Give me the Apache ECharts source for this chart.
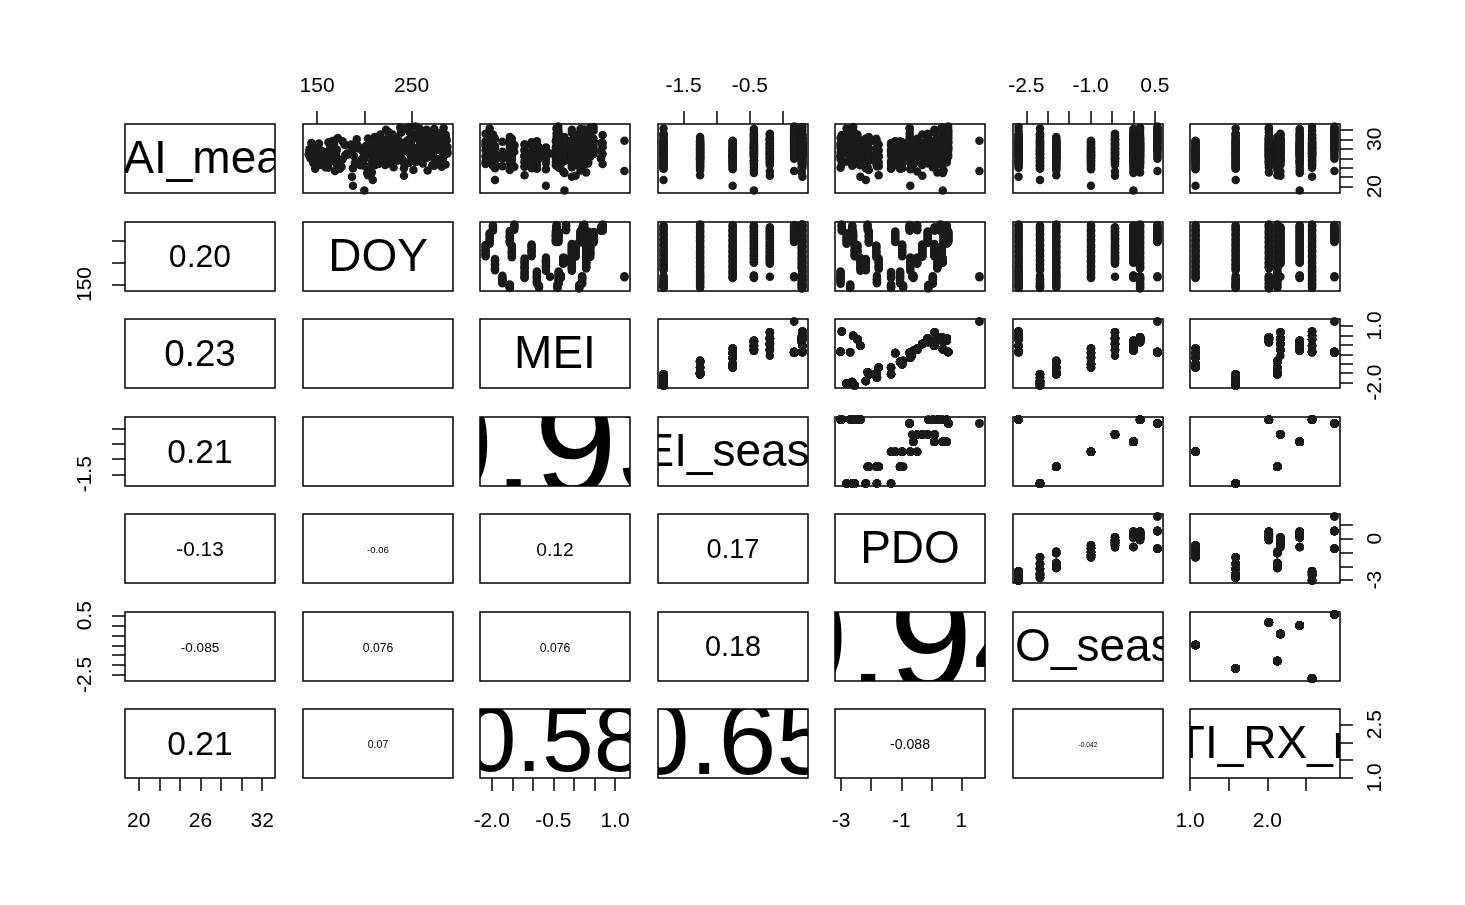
<!DOCTYPE html>
<html><head><meta charset="utf-8">
<script src="https://cdn.jsdelivr.net/npm/echarts@6/dist/echarts.min.js"></script>
<style>
html,body{margin:0;padding:0;background:#fff;}
#main{position:absolute;left:0;top:0;width:1465px;height:905px;}
.ov{position:absolute;overflow:hidden;}
</style></head><body>
<div id="main"></div>
<script>
// ================= DATA =================
const varNames = ['SAI_mean','DOY','MEI','MEI_season','PDO','PDO_season','BEUTI_RX_mean'];

// per sampling year (8 years)
const yearMEIseason = [-1.80,-1.25,-0.76,-0.44,-0.20,0.165,0.28,0.29];
const yearPDOseason = [-2.18,-1.80,-0.99,0.00,-0.43,0.56,0.155,-2.68];
const yearRX        = [1.59,2.13,1.07,2.42,2.17,2.87,2.02,2.58];

// monthly index values, months May..Oct (first DOY of each month)
const monthStartDOY = [121,152,182,213,244,274];
const monthMEI = [
  [-1.56,-1.74,-1.92,-2.15,-2.05,-1.97],
  [-0.85,-0.90,-1.20,-1.51,-1.56,-1.45],
  [null,-1.20,-0.68,-1.03,-0.44,-0.19],
  [-0.67,-0.32,-0.23,-0.05,0.16,0.22],
  [-0.90,-0.58,-0.26,0.04,0.34,0.66],
  [null,1.23,null,null,-0.38,-0.42],
  [0.13,0.20,0.30,0.40,0.35,0.25],
  [-0.40,-0.37,-0.05,0.30,0.48,0.70]
];
const monthPDO = [
  [-1.34,-1.81,-2.18,-2.55,-2.82,-2.63],
  [-0.94,-1.04,-1.75,-1.83,-2.08,-2.12],
  [null,-1.34,-0.70,-0.97,-1.20,-0.47],
  [-0.72,-0.60,0.38,0.10,0.41,0.51],
  [-0.84,-0.64,-0.47,-0.30,-0.12,0.11],
  [null,1.60,null,null,0.56,-0.72],
  [-0.10,0.05,0.20,0.35,0.51,0.30],
  [-2.70,-3.02,-2.36,-2.46,-2.60,-2.98]
];

// observations (day of year and SAI_mean) per year
const obsDOY = [
  [142,146,150,155,160,165,170,183,188,193,198,204,209,215,220,226,232,238,244,250,256,262,268,274,280,286, 144,153,162,186,196,206,218,229,241,253,265,277,283,148],
  [143,148,153,158,163,168,174,180,186,192,198,204,210,216,222,228,234,240,246,252,258,264,270,276,282,288, 145,156,166,177,189,201,213,225,237,249,261,273,285,171],
  [165,170,176,182,188,194,200,206,212,218,224,230,236,242,248,254,260,266,272,278,284, 167,179,191,203,215,227,239,251,263,275,287],
  [165,168,171,200,203,207,211,215,219,223,227,231,235,239,243,247,251,255,259,263,267,271,275,279,283,286, 166,170,201,209,217,225,233,241,249,257,265,273,281,285],
  [168,198,202,206,210,214,218,222,226,230,234,238,242,246,250,254,258,262,266,270,274,278,282, 200,208,216,224,232,240,248,256,264,272,280,212],
  [167,169,248,251,254,257,260,263,266,269,272,275,278,281,284,287, 249,252,256,259,262,265,268,271,274,277,280,283,286],
  [141,145,149,154,159,164,169,187,192,197,202,208,214,220,226,232,238,244,250,256,262,268,274,280,286, 143,152,162,190,200,211,223,235,247,259,271,283,288,167],
  [142,147,152,157,162,167,172,177,182,187,193,199,205,211,217,223,229,235,241,247,253,259,265,271,277,283,288, 144,150,160,170,180,190,202,214,226,238,250,262,274,286]
];
const obsAI = [
  [27.5,25.0,28.8,26.2,24.3,29.5,27.0,26.8,23.9,28.1,25.6,30.2,21.4,24.8,29.0,31.2,26.4,28.6,32.3,27.8,25.3,30.6,29.1,24.4,28.2,31.0, 29.2,27.4,25.9,28.6,24.5,26.9,27.7,29.6,25.2,31.0,27.0,29.8,26.0,23.8],
  [26.0,28.4,24.6,27.2,25.5,29.0,23.8,26.7,28.9,25.1,27.6,22.4,26.3,29.4,24.9,27.9,30.1,25.8,28.2,23.5,27.0,29.7,26.4,28.8,24.2,27.4, 27.3,25.8,28.1,29.6,26.5,24.3,28.0,26.2,27.0,29.2,25.4,30.5,28.6,27.8],
  [25.4,27.8,24.2,26.9,20.2,28.3,25.9,23.7,27.1,29.4,24.8,26.5,28.7,23.9,27.5,25.2,29.6,26.1,24.5,28.0,26.8, 26.6,28.9,25.0,27.6,26.0,29.1,27.2,26.4,28.3,25.6,29.7],
  [26.2,28.5,24.7,19.2,22.9,27.3,30.5,25.6,28.8,32.0,26.9,24.1,29.7,31.4,27.5,25.0,30.2,28.1,32.2,26.6,23.4,29.0,31.1,27.8,25.3,30.6, 27.4,25.5,26.4,28.3,27.0,29.0,27.9,29.3,26.7,30.9,28.3,27.1,29.6,28.7],
  [27.0,25.8,28.6,23.2,30.1,26.7,29.3,24.6,27.9,31.0,25.4,28.4,22.3,29.8,26.2,30.6,27.4,24.9,28.9,31.2,26.0,29.2,27.6, 27.1,25.3,28.0,26.9,29.0,27.3,30.0,26.6,28.1,29.9,25.9,28.8],
  [29.7,23.3,31.5,28.4,32.7,26.3,30.2,29.1,32.0,27.6,31.0,25.9,30.6,28.8,32.4,29.9, 29.4,30.9,27.9,31.8,28.3,29.6,30.4,26.8,32.2,28.2,31.3,27.3,30.0],
  [26.8,29.0,25.2,27.7,24.1,28.3,26.0,27.4,30.0,25.7,28.6,23.0,29.2,26.3,31.5,27.9,32.5,25.1,29.7,28.0,30.8,26.6,32.1,28.5,24.7, 27.9,26.4,29.4,28.8,26.9,27.5,29.9,30.4,27.3,29.1,28.8,30.2,27.0,25.4],
  [27.9,25.3,29.1,26.5,24.0,28.2,30.3,25.8,27.0,22.1,28.7,26.2,29.8,24.5,31.0,27.3,25.6,30.4,28.1,32.6,26.9,29.5,31.8,27.6,24.8,30.9,28.4, 26.7,28.0,27.2,26.4,28.8,25.0,27.5,28.9,29.2,27.0,30.1,28.4,29.3,26.9]
];

// correlations shown in the lower panels (row i, columns 0..i-1)
const corText = [
  [],
  ['0.20'],
  ['0.23','0.0041'],
  ['0.21','0.0027','0.93'],
  ['-0.13','-0.06','0.12','0.17'],
  ['-0.085','0.076','0.076','0.18','0.94'],
  ['0.21','0.07','0.58','0.65','-0.088','-0.042']
];
const corValue = [
  [],
  [0.20],
  [0.23,0.0041],
  [0.21,0.0027,0.93],
  [-0.13,-0.060,0.12,0.17],
  [-0.085,0.076,0.076,0.18,0.94],
  [0.21,0.066,0.58,0.65,-0.088,-0.042]
];

// axis ticks and labels per variable
const tickValues = [
  [20,22,24,26,28,30,32],
  [150,200,250],
  [-2,-1.5,-1,-0.5,0,0.5,1],
  [-1.5,-1,-0.5,0],
  [-3,-2,-1,0,1],
  [-2.5,-2,-1.5,-1,-0.5,0,0.5],
  [1,1.5,2,2.5]
];
const labelsTop    = {1:[150,250], 3:[-1.5,-0.5], 5:[-2.5,-1.0,0.5]};
const labelsBottom = {0:[20,26,32], 2:[-2,-0.5,1], 4:[-3,-1,1], 6:[1,2]};
const labelsLeft   = {1:[150], 3:[-1.5], 5:[-2.5,0.5]};
const labelsRight  = {0:[20,30], 2:[-2,1], 4:[-3,0], 6:[1,2.5]};
const labelDigits  = [0,0,1,1,0,1,1];

// ================= BUILD =================
const FONT = '"Liberation Sans", Arial, Helvetica, sans-serif';
const P = 7, PW = 150, PH = 69;
const colLeft = j => 125 + Math.round(j * 177.5);
const rowTop  = i => 124 + Math.round(i * 97.5);

// assemble observation table
const cols = [[],[],[],[],[],[],[]];
for (let y = 0; y < obsDOY.length; y++) {
  for (let k = 0; k < obsDOY[y].length; k++) {
    const d = obsDOY[y][k];
    let m = 0;
    for (let q = 0; q < monthStartDOY.length; q++) if (d >= monthStartDOY[q]) m = q;
    cols[0].push(obsAI[y][k]);
    cols[1].push(d);
    cols[2].push(monthMEI[y][m]);
    cols[3].push(yearMEIseason[y]);
    cols[4].push(monthPDO[y][m]);
    cols[5].push(yearPDOseason[y]);
    cols[6].push(yearRX[y]);
  }
}
const ranges = cols.map(c => {
  const mn = Math.min(...c), mx = Math.max(...c), pad = 0.04 * (mx - mn);
  return [mn - pad, mx + pad];
});

function axisCfg(g, v, pos, labels, isY) {
  const on = !!labels;
  const margins = {top: 27, bottom: 33, left: 29, right: 25};
  return {
    type: 'value', gridIndex: g, position: pos,
    min: ranges[v][0], max: ranges[v][1],
    axisLine: {show: false}, splitLine: {show: false},
    axisTick: on ? {show: true, inside: false, length: 13, customValues: tickValues[v],
                    lineStyle: {color: '#000', width: 1.5}} : {show: false},
    axisLabel: on ? {show: true, customValues: labels, color: '#000', fontSize: 21, fontFamily: FONT,
                     margin: margins[pos], rotate: isY ? 90 : 0,
                     formatter: val => Number(val).toFixed(labelDigits[v])} : {show: false}
  };
}

const grids = [], xAxes = [], yAxes = [], series = [];
for (let i = 0; i < P; i++) {
  for (let j = 0; j < P; j++) {
    const g = i * P + j;
    grids.push({left: colLeft(j), top: rowTop(i), width: PW, height: PH, show: true,
                borderColor: '#000', borderWidth: 1.5, backgroundColor: 'rgba(0,0,0,0)',
                containLabel: false, outerBoundsMode: 'none'});
    const top = (i === 0 && j % 2 === 1), bottom = (i === P - 1 && j % 2 === 0);
    xAxes.push(axisCfg(g, j, top ? 'top' : 'bottom', top ? labelsTop[j] : (bottom ? labelsBottom[j] : null), false));
    const left = (j === 0 && i % 2 === 1), right = (j === P - 1 && i % 2 === 0);
    yAxes.push(axisCfg(g, i, right ? 'right' : 'left', left ? labelsLeft[i] : (right ? labelsRight[i] : null), true));
    if (j > i) {
      const data = cols[0].map((_, k) => [cols[j][k], cols[i][k]]);
      series.push({type: 'scatter', xAxisIndex: g, yAxisIndex: g, data: data, symbol: 'circle',
                   symbolSize: 8.5, itemStyle: {color: '#1a1a1a', opacity: 1}, silent: true, clip: true});
    }
  }
}

const chart = echarts.init(document.getElementById('main'), null, {renderer: 'canvas', width: 1465, height: 905});
chart.setOption({animation: false, backgroundColor: '#fff', grid: grids, xAxis: xAxes, yAxis: yAxes, series: series});

// text panels (diagonal names and lower-panel correlations), clipped to their boxes
function textPanel(i, j, text, size) {
  const d = document.createElement('div');
  d.className = 'ov';
  d.style.left = colLeft(j) + 'px'; d.style.top = rowTop(i) + 'px';
  d.style.width = PW + 'px'; d.style.height = PH + 'px';
  document.body.appendChild(d);
  const c = echarts.init(d, null, {renderer: 'canvas', width: PW, height: PH});
  c.setOption({
    animation: false,
    grid: {left: 0, right: 0, top: 0, bottom: 0, containLabel: false, outerBoundsMode: 'none'},
    xAxis: {type: 'value', min: 0, max: 1, show: false},
    yAxis: {type: 'value', min: 0, max: 1, show: false},
    series: [{type: 'scatter', data: [[0.5, 0.5]], symbolSize: 1, silent: true,
              itemStyle: {color: 'rgba(0,0,0,0)', opacity: 1},
              label: {show: true, position: 'inside', formatter: text, fontSize: Math.max(size, 0.6),
                      fontFamily: FONT, color: '#000', opacity: 1, offset: [0, 2]}}]
  });
}
for (let i = 0; i < P; i++) textPanel(i, i, varNames[i], 46);
for (let i = 1; i < P; i++) for (let j = 0; j < i; j++)
  textPanel(i, j, corText[i][j], 160 * Math.abs(corValue[i][j]));
</script>
</body></html>
